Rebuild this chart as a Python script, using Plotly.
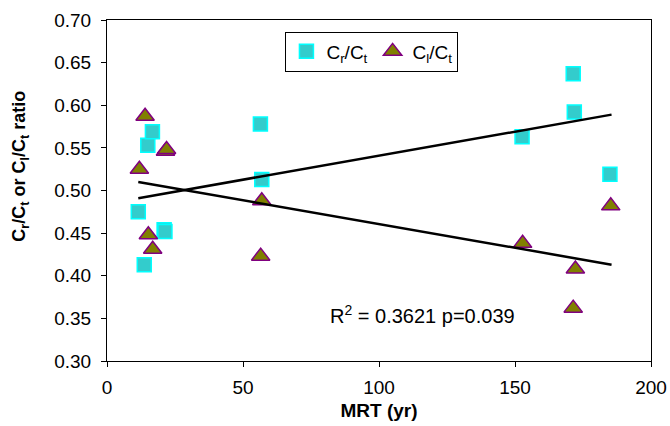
import plotly.graph_objects as go

# Data
cr_x = [11.5, 13.7, 15.0, 16.7, 21.0, 21.3, 56.4, 56.9, 152.6, 171.4, 171.8, 184.9]
cr_y = [0.475, 0.413, 0.553, 0.569, 0.454, 0.452, 0.578, 0.513, 0.563, 0.637, 0.592, 0.519]
cl_x = [11.9, 14.0, 15.2, 16.8, 21.5, 21.9, 56.5, 56.9, 152.8, 171.4, 172.2, 185.2]
cl_y = [0.525, 0.587, 0.448, 0.431, 0.546, 0.548, 0.423, 0.488, 0.438, 0.362, 0.408, 0.482]
trend_x = [11.5, 185.5]
cr_trend = [0.491, 0.589]
cl_trend = [0.510, 0.413]
x_ticks = [0, 50, 100, 150, 200]
y_ticks = [0.30, 0.35, 0.40, 0.45, 0.50, 0.55, 0.60, 0.65, 0.70]

FONT = "Liberation Sans, Arial, sans-serif"

fig = go.Figure()
fig.add_trace(go.Scatter(
    x=cr_x, y=cr_y, mode="markers", name="C<sub>r</sub>/C<sub>t</sub>",
    marker=dict(symbol="square", size=14, color="#33CCCC",
                line=dict(color="#00FFFF", width=1.5))))
fig.add_trace(go.Scatter(
    x=cl_x, y=cl_y, mode="markers", name="C<sub>l</sub>/C<sub>t</sub>",
    marker=dict(symbol="triangle-up", size=16, color="#808000",
                line=dict(color="#800080", width=1.5))))
fig.add_trace(go.Scatter(x=trend_x, y=cr_trend, mode="lines", showlegend=False,
                         line=dict(color="black", width=2.5)))
fig.add_trace(go.Scatter(x=trend_x, y=cl_trend, mode="lines", showlegend=False,
                         line=dict(color="black", width=2.5)))

fig.add_annotation(x=116, y=0.355, xref="x", yref="y",
                   text="R<sup>2</sup> = 0.3621 p=0.039", showarrow=False,
                   font=dict(family=FONT, size=20, color="black"))

# y-axis title (placed as rotated text, slightly above plot centre as in reference)
fig.add_annotation(x=-0.158, y=0.57, xref="paper", yref="paper",
                   xanchor="center", yanchor="middle", textangle=-90,
                   text="<b>C<sub>r</sub>/C<sub>t</sub> or C<sub>l</sub>/C<sub>t</sub> ratio</b>",
                   showarrow=False, font=dict(family=FONT, size=18, color="black"))

fig.update_layout(
    template="none",
    width=670, height=426,
    margin=dict(l=107, r=19, t=20, b=65, autoexpand=False),
    paper_bgcolor="white", plot_bgcolor="white",
    font=dict(family=FONT, size=19, color="black"),
    legend=dict(orientation="h", x=0.328, y=0.9076, xanchor="left", yanchor="middle",
                bordercolor="black", borderwidth=1, bgcolor="white",
                font=dict(family=FONT, size=19), itemwidth=30),
    xaxis=dict(range=[0, 200], tickvals=x_ticks, showgrid=False, zeroline=False,
               automargin=False,
               showline=True, linecolor="black", linewidth=1, mirror=True,
               ticks="outside", ticklen=5, tickcolor="black", ticklabelstandoff=4,
               title=dict(text="<b>MRT (yr)</b>", font=dict(size=19), standoff=6)),
    yaxis=dict(range=[0.30, 0.70], tickvals=y_ticks, tickformat=".2f",
               showgrid=False, zeroline=False, automargin=False,
               showline=True, linecolor="black", linewidth=1, mirror=True,
               ticks="outside", ticklen=5, tickcolor="black", ticklabelstandoff=6),
)

fig.write_html("out.html")
